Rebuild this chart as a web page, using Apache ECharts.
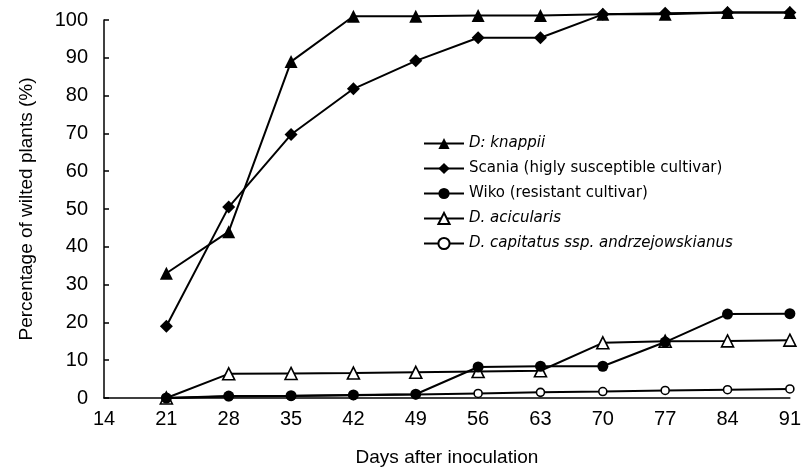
<!DOCTYPE html>
<html>
<head>
<meta charset="utf-8">
<script src="https://cdn.jsdelivr.net/npm/echarts@6/dist/echarts.min.js"></script>
<style>html,body{margin:0;padding:0;background:#fff}#c{width:804px;height:472px}</style>
</head>
<body>
<div id="c"></div>
<script>
var days = [21, 28, 35, 42, 49, 56, 63, 70, 77, 84, 91];
var knappii   = [33, 44, 89, 101, 101, 101.2, 101.2, 101.5, 101.5, 102, 102];
var scania    = [19, 50.5, 69.7, 81.8, 89.2, 95.3, 95.3, 101.5, 101.8, 102, 102];
var wiko      = [0, 0.5, 0.6, 0.8, 1, 8.2, 8.4, 8.4, 14.8, 22.2, 22.3];
var acicularis= [0, 6.4, 6.5, 6.6, 6.8, 7, 7.2, 14.6, 15, 15.1, 15.3];
var capitatus = [0, 0.4, 0.5, 0.7, 0.9, 1.2, 1.5, 1.7, 2, 2.2, 2.4];
var legendNames = ['D: knappii', 'Scania (higly susceptible cultivar)', 'Wiko (resistant cultivar)', 'D. acicularis', 'D. capitatus ssp. andrzejowskianus'];
var italic = [true, false, false, true, true];

function pts(arr){ return days.map(function(d,i){ return [d, arr[i]]; }); }

var FONT = '"Liberation Sans", Arial, sans-serif';
var LFONT = '"DejaVu Sans", sans-serif';
function mk(name, arr, symbol, size, filled, z){
  return {
    name: name, type: 'line', data: pts(arr), clip: false, z: z,
    symbol: symbol, symbolSize: size, showAllSymbol: true,
    lineStyle: {color: '#000', width: 2},
    itemStyle: {color: filled ? '#000' : '#fff', borderColor: '#000', borderWidth: filled ? 0 : 1.6},
    emphasis: {disabled: true}, animation: false
  };
}

var chart = echarts.init(document.getElementById('c'));
chart.setOption({
  animation: false,
  backgroundColor: '#fff',
  grid: {left: 104, right: 13, top: 20, bottom: 73},
  legend: {
    orient: 'vertical', left: 418, top: 131, itemGap: 10, itemWidth: 40, itemHeight: 14,
    textStyle: {fontFamily: LFONT, fontSize: 15, color: '#000'},
    data: legendNames.map(function(n, i){ return {name: n, textStyle: {fontStyle: italic[i] ? 'italic' : 'normal'}}; })
  },
  xAxis: {
    type: 'value', min: 14, max: 91, interval: 7,
    name: 'Days after inoculation', nameLocation: 'middle', nameGap: 50,
    nameTextStyle: {fontFamily: FONT, fontSize: 19, color: '#000'},
    axisLine: {lineStyle: {color: '#000', width: 1.5}},
    axisTick: {show: false},
    splitLine: {show: false},
    axisLabel: {fontFamily: FONT, fontSize: 20, color: '#000', margin: 11}
  },
  yAxis: {
    type: 'value', min: 0, max: 100, interval: 10,
    name: 'Percentage of wilted plants (%)', nameLocation: 'middle', nameGap: 68, nameRotate: 90,
    nameTextStyle: {fontFamily: FONT, fontSize: 19, color: '#000'},
    axisLine: {show: true, lineStyle: {color: '#000', width: 1.5}},
    axisTick: {show: true, inside: true, length: 5, lineStyle: {color: '#000', width: 1.5}},
    splitLine: {show: false},
    axisLabel: {fontFamily: FONT, fontSize: 20, color: '#000', margin: 16}
  },
  series: [
    mk(legendNames[0], knappii, 'triangle', 13, true, 5),
    mk(legendNames[1], scania, 'diamond', 13, true, 4),
    mk(legendNames[2], wiko, 'circle', 11, true, 6),
    mk(legendNames[3], acicularis, 'triangle', 12, false, 3),
    mk(legendNames[4], capitatus, 'circle', 8, false, 2)
  ]
});
</script>
</body>
</html>
